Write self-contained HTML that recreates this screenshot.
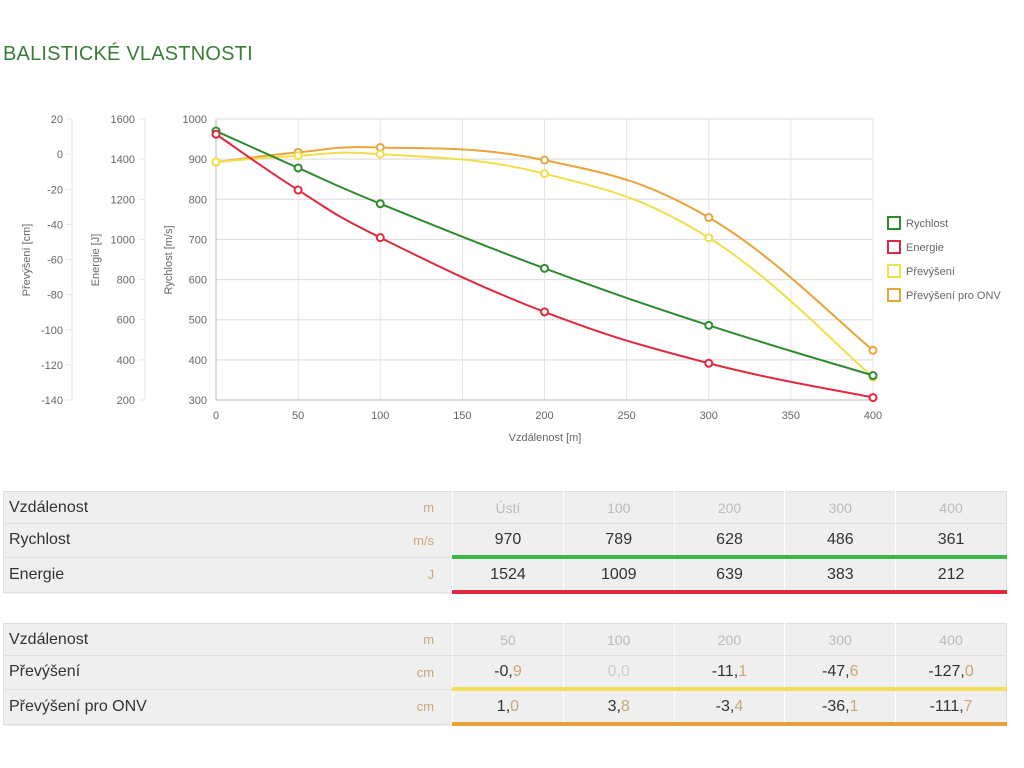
<!DOCTYPE html>
<html><head><meta charset="utf-8"><style>
body{margin:0;width:1024px;height:768px;background:#fff;font-family:"Liberation Sans",sans-serif;overflow:hidden;position:relative}
h1{position:absolute;left:3px;top:43px;margin:0;font-weight:normal;font-size:20px;color:#3a7d3a;letter-spacing:0.2px}
svg{position:absolute;left:0;top:0}
table{position:absolute;left:3px;width:1004px;border-collapse:collapse;background:#efefef;font-size:16px;color:#333;border:1px solid #ddd}
td{height:31px;padding:0;border-bottom:1px solid #e0e0e0}
td.l{padding-left:5px;width:380px}
td.u{text-align:right;padding-right:18px;color:#c8a878;font-size:13px;width:46px}
td.v{text-align:center;width:110px;border-left:1px solid #fff}
tr.h td.v{color:#bbb;font-size:14px}
.d{color:#c9a877}
</style></head><body>
<h1>BALISTICKÉ VLASTNOSTI</h1>
<svg id="c" width="1024" height="470"></svg>

<table style="top:491px">
<tr class="h"><td class="l">Vzdálenost</td><td class="u">m</td><td class="v">Ústí</td><td class="v">100</td><td class="v">200</td><td class="v">300</td><td class="v">400</td></tr>
<tr><td class="l">Rychlost</td><td class="u">m/s</td><td class="v" style="border-bottom:4px solid #3cb84a">970</td><td class="v" style="border-bottom:4px solid #3cb84a">789</td><td class="v" style="border-bottom:4px solid #3cb84a">628</td><td class="v" style="border-bottom:4px solid #3cb84a">486</td><td class="v" style="border-bottom:4px solid #3cb84a">361</td></tr>
<tr><td class="l">Energie</td><td class="u">J</td><td class="v" style="border-bottom:4px solid #e0283e">1524</td><td class="v" style="border-bottom:4px solid #e0283e">1009</td><td class="v" style="border-bottom:4px solid #e0283e">639</td><td class="v" style="border-bottom:4px solid #e0283e">383</td><td class="v" style="border-bottom:4px solid #e0283e">212</td></tr>
</table>

<table style="top:623px">
<tr class="h"><td class="l">Vzdálenost</td><td class="u">m</td><td class="v">50</td><td class="v">100</td><td class="v">200</td><td class="v">300</td><td class="v">400</td></tr>
<tr><td class="l">Převýšení</td><td class="u">cm</td><td class="v" style="border-bottom:4px solid #f3e05a">-0,<span class="d">9</span></td><td class="v" style="border-bottom:4px solid #f3e05a;color:#ccc">0,0</td><td class="v" style="border-bottom:4px solid #f3e05a">-11,<span class="d">1</span></td><td class="v" style="border-bottom:4px solid #f3e05a">-47,<span class="d">6</span></td><td class="v" style="border-bottom:4px solid #f3e05a">-127,<span class="d">0</span></td></tr>
<tr><td class="l">Převýšení pro ONV</td><td class="u">cm</td><td class="v" style="border-bottom:4px solid #e8a23a">1,<span class="d">0</span></td><td class="v" style="border-bottom:4px solid #e8a23a">3,<span class="d">8</span></td><td class="v" style="border-bottom:4px solid #e8a23a">-3,<span class="d">4</span></td><td class="v" style="border-bottom:4px solid #e8a23a">-36,<span class="d">1</span></td><td class="v" style="border-bottom:4px solid #e8a23a">-111,<span class="d">7</span></td></tr>
</table>

<script>
const distances=[0,50,100,200,300,400];
const velocity=[970,878,789,628,486,361];
const energy=[1524,1246,1009,639,383,212];
const drop=[-4.5,-0.9,0.0,-11.1,-47.6,-127.0];
const dropOnv=[-4.5,1.0,3.8,-3.4,-36.1,-111.7];
const xTicks=[0,50,100,150,200,250,300,350,400];
const vTicks=[300,400,500,600,700,800,900,1000];
const eTicks=[200,400,600,800,1000,1200,1400,1600];
const dTicks=[-140,-120,-100,-80,-60,-40,-20,0,20];

const NS="http://www.w3.org/2000/svg",svg=document.getElementById('c');
const X0=216,X1=873,Y0=400,Y1=119;
const xs=v=>X0+(v-0)/400*(X1-X0);
const yv=v=>Y0-(v-300)/700*(Y0-Y1);
const ye=v=>Y0-(v-200)/1400*(Y0-Y1);
const yd=v=>Y0-(v+140)/160*(Y0-Y1);
function el(t,a,name){const e=document.createElementNS(NS,t);for(const k in a)e.setAttribute(k,a[k]);


svg.appendChild(e);return e;}
function txt(x,y,s,name,anchor,extra){const e=el('text',Object.assign({x:x,y:y,'font-size':11,fill:'#666','text-anchor':anchor||'end'},extra||{}),name);e.textContent=s;return e;}

// grid
eTicks.forEach(t=>el('line',{x1:X0,x2:X1,y1:ye(t),y2:ye(t),stroke:'#eee'},'energy-gridline'));
vTicks.forEach(t=>{el('line',{x1:X0,x2:X1,y1:yv(t),y2:yv(t),stroke:'#ddd'},'velocity-gridline');txt(207,yv(t)+4,t,'velocity-tick');});
xTicks.forEach(t=>{el('line',{x1:xs(t),x2:xs(t),y1:Y1,y2:Y0,stroke:'#e4e4e4'},'x-gridline');txt(xs(t),419,t,'x-tick','middle');});
el('line',{x1:X0,x2:X0,y1:Y1,y2:Y0,stroke:'#bbb'},'velocity-axis-line');
el('line',{x1:X0,x2:X1,y1:Y0,y2:Y0,stroke:'#bbb'},'x-axis-line');
el('line',{x1:145,x2:145,y1:Y1,y2:Y0,stroke:'#e6e6e6'},'energy-axis-line');
el('line',{x1:72,x2:72,y1:Y1,y2:Y0,stroke:'#e6e6e6'},'drop-axis-line');
eTicks.forEach(t=>{txt(135,ye(t)+4,t,'energy-tick');el('line',{x1:139,x2:145,y1:ye(t),y2:ye(t),stroke:'#e6e6e6'},'energy-tick-mark');});
dTicks.forEach(t=>{txt(63,yd(t)+4,t,'drop-tick');el('line',{x1:66,x2:72,y1:yd(t),y2:yd(t),stroke:'#e6e6e6'},'drop-tick-mark');});
txt(545,441,'Vzdálenost [m]','x-axis-title','middle');
txt(0,0,'Převýšení [cm]','drop-axis-title','middle',{transform:'translate(30,260) rotate(-90)'});
txt(0,0,'Energie [J]','energy-axis-title','middle',{transform:'translate(99,260) rotate(-90)'});
txt(0,0,'Rychlost [m/s]','velocity-axis-title','middle',{transform:'translate(172,260) rotate(-90)'});

function path(pts){const t=0.4;let d='M'+pts[0][0]+','+pts[0][1];
for(let i=0;i<pts.length-1;i++){const p0=pts[i-1]||pts[i],p1=pts[i],p2=pts[i+1],p3=pts[i+2]||p2;
const c1=[p1[0]+(p2[0]-p0[0])*t/2,p1[1]+(p2[1]-p0[1])*t/2],c2=[p2[0]-(p3[0]-p1[0])*t/2,p2[1]-(p3[1]-p1[1])*t/2];
d+=' C'+c1+' '+c2+' '+p2;}return d;}
function series(vals,yf,col,name){const pts=distances.map((d,i)=>[xs(d),yf(vals[i])]);
el('path',{d:path(pts),fill:'none',stroke:col,'stroke-width':2},name+'-line');
pts.forEach(p=>el('circle',{cx:p[0],cy:p[1],r:3.5,fill:'#fff',stroke:col,'stroke-width':2},name+'-point'));}
series(dropOnv,yd,'#eaa43c','drop-onv');
series(drop,yd,'#f0df4a','drop');
series(velocity,yv,'#2e8b2e','velocity');
series(energy,ye,'#e0283e','energy');

[['Rychlost','#2e8b2e'],['Energie','#e0283e'],['Převýšení','#f0df4a'],['Převýšení pro ONV','#eaa43c']].forEach((l,i)=>{
const y=222+i*24;
el('rect',{x:888,y:y-5,width:12,height:12,fill:'#fff',stroke:l[1],'stroke-width':2},'legend-swatch');
txt(906,y+5,l[0],'legend-entry','start');});
</script>
</body></html>
